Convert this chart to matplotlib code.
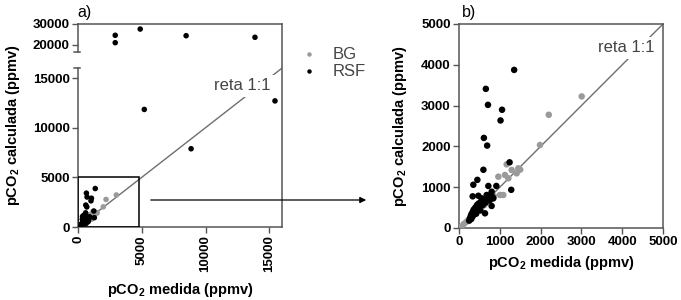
import numpy as np
import matplotlib
matplotlib.use("Agg")
import matplotlib.pyplot as plt
from matplotlib.patches import Rectangle, FancyArrowPatch
from matplotlib.lines import Line2D
import matplotlib.transforms as mtransforms

plt.rcParams['font.family'] = ['Liberation Sans', 'DejaVu Sans']
plt.rcParams['mathtext.fontset'] = 'custom'
plt.rcParams['mathtext.rm'] = 'Liberation Sans:bold'
plt.rcParams['mathtext.bf'] = 'Liberation Sans:bold'

# ---- data (ppmv) ----
bg_x = [65, 120, 180, 230, 300, 350, 420, 480, 550, 620, 700, 780, 860,
        964, 1005, 1086, 1127, 1168, 1209, 1291, 1413, 1454, 1500, 1985, 2200, 3007]
bg_y = [40, 100, 150, 200, 260, 300, 380, 430, 500, 560, 640, 700, 780,
        1258, 809, 809, 1299, 1560, 1218, 1422, 1340, 1463, 1430, 2034, 2775, 3225]

rsf_x = [1352, 658, 710, 1055, 1018, 610, 690, 598, 1240, 1280, 450, 351, 719, 915,
         335, 474, 678, 801, 841, 719, 556, 637, 800,
         250, 270, 290, 300, 310, 330, 340, 350, 360, 380, 400, 410, 420, 440,
         460, 480, 500, 520, 540, 580, 600, 650, 700, 750, 780, 820,
         2920, 2920, 4880, 8480, 13880, 5200, 15450, 8870]
rsf_y = [3875, 3410, 3018, 2898, 2636, 2208, 2020, 1427, 1610, 936, 1180, 1060, 1030, 1030,
         776, 790, 809, 890, 727, 695, 727, 360, 540,
         180, 240, 300, 220, 350, 280, 400, 330, 450, 380, 500, 420, 350, 560,
         480, 600, 520, 430, 650, 560, 700, 620, 720, 680, 820, 760,
         24620, 21100, 27600, 24430, 23670, 11840, 12700, 7880]

one_to_one_a = [0, 16000]
one_to_one_b = [0, 5000]
xticks_a = [0, 5000, 10000, 15000]
yticks_a = [0, 5000, 10000, 15000, 20000, 30000]
ticks_b = [0, 1000, 2000, 3000, 4000, 5000]

# broken y-scale for panel a
LOW_MAX, UP_MIN, Y_MAX = 16000, 16500, 30000
T_UP = 17590
UP_FAC = 0.2114
src = np.array([-1e6, LOW_MAX, UP_MIN, Y_MAX + 1e6])
dst = np.array([-1e6, LOW_MAX, T_UP, T_UP + (Y_MAX + 1e6 - UP_MIN) * UP_FAC])

def fwd(y):
    return np.interp(y, src, dst)

def inv(t):
    return np.interp(t, dst, src)

W, H = 681, 300
fig = plt.figure(figsize=(W / 100, H / 100), dpi=100)

spine_c = '#555555'
line_c = '#6e6e6e'
gray_c = '#9a9a9a'
text_c = '#444444'
tick_fs = 9.5
lab_fs = 10.5
note_fs = 12

# ---------- panel a ----------
axa = fig.add_axes([78 / W, 1 - 227 / H, 204 / W, 203 / H])
axa.set_yscale('function', functions=(fwd, inv))
axa.set_xlim(0, 16000)
axa.set_ylim(0, Y_MAX)
axa.plot(one_to_one_a, one_to_one_a, color=line_c, lw=1.0, zorder=1)
axa.scatter(bg_x, bg_y, s=16, color=gray_c, edgecolors='none', zorder=3)
axa.scatter(rsf_x, rsf_y, s=16, color='black', edgecolors='none', zorder=4)
axa.add_patch(Rectangle((0, 0), 4800, 5000, fill=False, ec='black', lw=1.1, zorder=5))
axa.text(10700, 14200, 'reta 1:1', ha='left', va='center', fontsize=note_fs, color=text_c,
         bbox=dict(facecolor='white', edgecolor='none', pad=2.5), zorder=2)
axa.set_xticks(xticks_a)
axa.set_xticklabels([str(v) for v in xticks_a], rotation=90, fontweight='bold', fontsize=tick_fs)
axa.set_yticks(yticks_a)
axa.set_yticklabels([str(v) for v in yticks_a], fontweight='bold', fontsize=tick_fs)
axa.tick_params(direction='out', length=4, width=1, color=spine_c, pad=2)
axa.minorticks_off()
for s in ['top', 'right', 'bottom']:
    axa.spines[s].set_color(spine_c)
    axa.spines[s].set_linewidth(1.1)
axa.spines['left'].set_visible(False)
trans = mtransforms.blended_transform_factory(axa.transAxes, axa.transData)
for y0, y1 in [(0, LOW_MAX), (UP_MIN, Y_MAX)]:
    axa.add_line(Line2D([0, 0], [y0, y1], transform=trans, color=spine_c, lw=1.1, clip_on=False))
for yb in [LOW_MAX, UP_MIN]:
    axa.add_line(Line2D([-0.022, 0.01], [yb, yb], transform=trans, color=spine_c, lw=1.1, clip_on=False))
axa.set_xlabel(r'pCO$_{2}$ medida (ppmv)', fontweight='bold', fontsize=lab_fs, labelpad=6)
axa.set_ylabel(r'pCO$_{2}$ calculada (ppmv)', fontweight='bold', fontsize=lab_fs, labelpad=8)

# legend
h_bg = Line2D([], [], ls='none', marker='o', ms=3.2, color=gray_c, mec='none')
h_rsf = Line2D([], [], ls='none', marker='o', ms=3.2, color='black', mec='none')
fig.legend([h_bg, h_rsf], ['BG', 'RSF'], loc='upper left', bbox_to_anchor=(291 / W, 1 - 39 / H),
           frameon=False, fontsize=note_fs, labelcolor=text_c, handletextpad=0.8,
           labelspacing=0.12, borderpad=0, handlelength=1.2)

# arrow
fig.add_artist(FancyArrowPatch(
    (148 / W, 1 - 200 / H), (369 / W, 1 - 200 / H), transform=fig.transFigure,
    arrowstyle='-|>', mutation_scale=9, color='black', lw=0.9))

# ---------- panel b ----------
axb = fig.add_axes([459 / W, 1 - 228 / H, 204 / W, 204 / H])
axb.set_xlim(0, 5000)
axb.set_ylim(0, 5000)
axb.plot(one_to_one_b, one_to_one_b, color=line_c, lw=1.0, zorder=1)
axb.scatter(bg_x, bg_y, s=22, color=gray_c, edgecolors='none', zorder=3)
axb.scatter(rsf_x, rsf_y, s=22, color='black', edgecolors='none', zorder=4)
axb.text(3400, 4420, 'reta 1:1', ha='left', va='center', fontsize=note_fs, color=text_c,
         bbox=dict(facecolor='white', edgecolor='none', pad=2.5), zorder=2)
axb.set_xticks(ticks_b)
axb.set_xticklabels([str(v) for v in ticks_b], fontweight='bold', fontsize=tick_fs)
axb.set_yticks(ticks_b)
axb.set_yticklabels([str(v) for v in ticks_b], fontweight='bold', fontsize=tick_fs)
axb.tick_params(direction='out', length=4, width=1, color=spine_c, pad=2)
for s in axb.spines.values():
    s.set_color(spine_c)
    s.set_linewidth(1.1)
axb.set_xlabel(r'pCO$_{2}$ medida (ppmv)', fontweight='bold', fontsize=lab_fs, labelpad=4)
axb.set_ylabel(r'pCO$_{2}$ calculada (ppmv)', fontweight='bold', fontsize=lab_fs, labelpad=9)

fig.text(77 / W, 1 - 13 / H, 'a)', fontsize=11.5, va='center', ha='left')
fig.text(462 / W, 1 - 13 / H, 'b)', fontsize=11.5, va='center', ha='left')

fig.savefig('out.png', dpi=100)
